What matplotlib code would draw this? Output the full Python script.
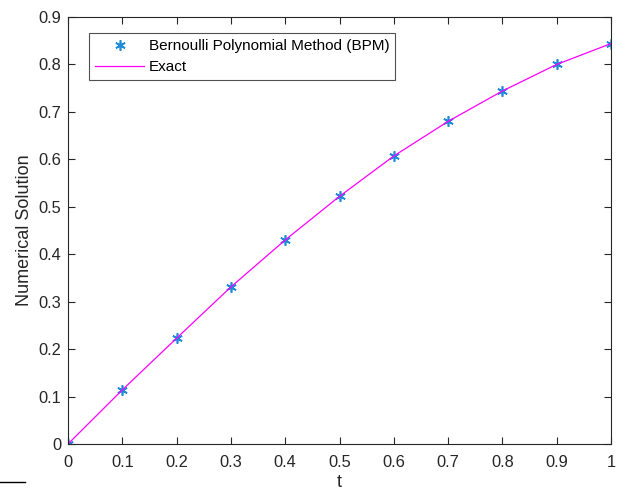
import numpy as np
import matplotlib
matplotlib.use("Agg")
import matplotlib.pyplot as plt

plt.rcParams['font.family'] = ['Liberation Sans', 'DejaVu Sans']

# values
t = [0, 0.1, 0.2, 0.3, 0.4, 0.5, 0.6, 0.7, 0.8, 0.9, 1.0]
bpm = [0, 0.114, 0.223, 0.331, 0.430, 0.522, 0.607, 0.680, 0.744, 0.800, 0.844]
exact = [0, 0.114, 0.223, 0.331, 0.430, 0.522, 0.607, 0.680, 0.744, 0.800, 0.844]

xticks = [0, 0.1, 0.2, 0.3, 0.4, 0.5, 0.6, 0.7, 0.8, 0.9, 1]
yticks = [0, 0.1, 0.2, 0.3, 0.4, 0.5, 0.6, 0.7, 0.8, 0.9]

fig = plt.figure(figsize=(6.25, 4.9), dpi=100)
ax = fig.add_axes([68/625, 1-444/490, 543/625, 427/490])

ax.plot(t, bpm, linestyle='none', marker=(6, 2, 0), markersize=7.5,
        markeredgewidth=1.2, color='#1f8ad8', label='Bernoulli Polynomial Method (BPM)')
ax.plot(t, exact, color='#ff00ff', linewidth=0.9, label='Exact')

ax.set_xlim(0, 1)
ax.set_ylim(0, 0.9)
ax.set_xticks(xticks)
ax.set_xticklabels(['0', '0.1', '0.2', '0.3', '0.4', '0.5', '0.6', '0.7', '0.8', '0.9', '1'])
ax.set_yticks(yticks)
ax.set_yticklabels(['0', '0.1', '0.2', '0.3', '0.4', '0.5', '0.6', '0.7', '0.8', '0.9'])
ax.tick_params(direction='in', length=5, width=0.8, labelsize=11.8, colors='#262626',
               top=True, right=True)
ax.tick_params(axis='x', pad=8)
ax.tick_params(axis='y', pad=5)
for s in ax.spines.values():
    s.set_color('#262626')
    s.set_linewidth(0.8)

ax.set_xlabel('t', fontsize=13, color='#262626', labelpad=2.5)
ax.set_ylabel('Numerical Solution', fontsize=13, color='#262626', labelpad=4)

leg = ax.legend(loc='upper left', bbox_to_anchor=(21/543, 1-16/427), fontsize=11,
                frameon=True, fancybox=False, borderaxespad=0, handlelength=3.2,
                handletextpad=0.3, labelspacing=0.45, borderpad=0.4)
leg.get_frame().set_edgecolor('#262626')
leg.get_frame().set_linewidth(0.8)

# small stray line at bottom-left of the original image
fig.add_artist(plt.Line2D([0, 25/625], [1-482/490, 1-482/490], color='black', linewidth=1))

fig.savefig('out.png', dpi=100)
